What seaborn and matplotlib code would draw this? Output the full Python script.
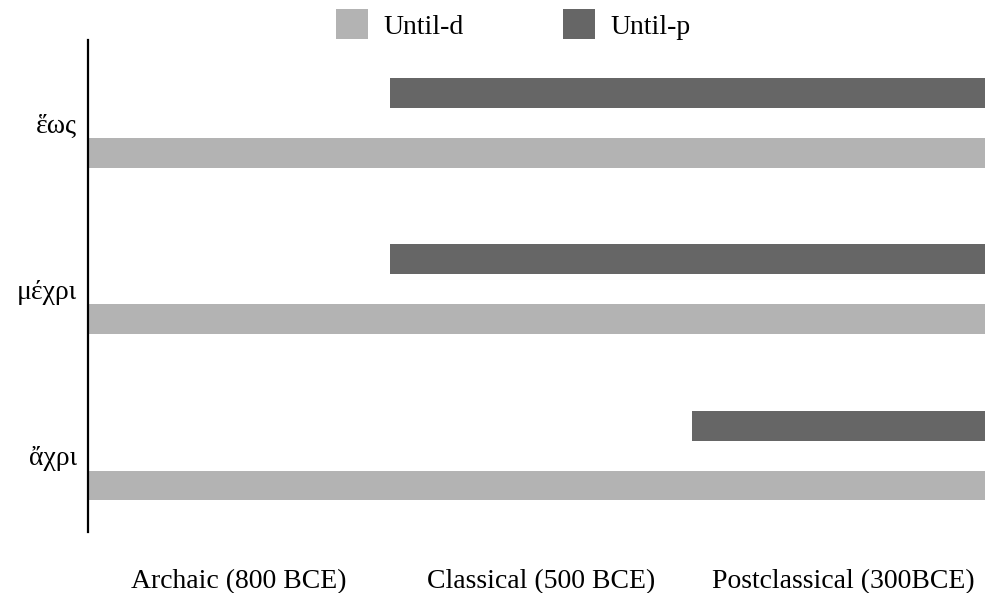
import matplotlib
matplotlib.use("Agg")
import matplotlib.pyplot as plt
import seaborn as sns
import pandas as pd
from matplotlib.patches import Patch

# ---- data ----
words = ["ἕως", "μέχρι", "ἄχρι"]
periods = ["Archaic (800 BCE)", "Classical (500 BCE)", "Postclassical (300BCE)"]
series = ["Until-d", "Until-p"]
until_d_start = [0, 0, 0]   # period index where use begins
until_d_end = [3, 3, 3]     # period index where use ends
until_p_start = [1, 1, 2]
until_p_end = [3, 3, 3]

colors = {"Until-d": "#b3b3b3", "Until-p": "#666666"}

sns.set_theme(style="white")
plt.rcParams["font.family"] = ["Liberation Serif", "DejaVu Serif"]
plt.rcParams["text.color"] = "black"
plt.rcParams["xtick.color"] = "black"
plt.rcParams["ytick.color"] = "black"

rows = []
for i, w in enumerate(words):
    rows.append(dict(word=w, pos=i, series="Until-d", start=until_d_start[i], end=until_d_end[i]))
    rows.append(dict(word=w, pos=i, series="Until-p", start=until_p_start[i], end=until_p_end[i]))
df = pd.DataFrame(rows)

fig = plt.figure(figsize=(9.85, 5.93), dpi=100)
ax = fig.add_axes([88 / 985, 1 - 532 / 593, 1 - 88 / 985, (532 - 40) / 593])

bar_h = 0.18
offsets = {"Until-p": -0.18, "Until-d": 0.18}
for s in series:
    sub = df[df.series == s]
    ax.barh(sub["pos"] + offsets[s], sub["end"] - sub["start"], left=sub["start"],
            height=bar_h, color=colors[s], linewidth=0)

ax.set_xlim(0, 2.97)
ax.set_ylim(2.46, -0.5)
ax.set_yticks(range(len(words)))
ax.set_yticklabels(words, fontsize=20)
ax.set_xticks([i + 0.5 for i in range(len(periods))])
ax.set_xticklabels(periods, fontsize=20)
ax.tick_params(axis="x", length=0, pad=27, labelcolor="black")
ax.tick_params(axis="y", length=0, pad=8, labelcolor="black")
for side in ["top", "right", "bottom"]:
    ax.spines[side].set_visible(False)
ax.spines["left"].set_color("black")
ax.spines["left"].set_linewidth(1.6)
ax.set_xlabel("")
ax.set_ylabel("")

handles = [Patch(facecolor=colors[s], edgecolor="none", label=s) for s in series]
fig.legend(handles=handles, loc="upper center", bbox_to_anchor=(0.5215, 1.008), ncol=2,
           frameon=False, fontsize=20, handlelength=1.12, handleheight=1.3,
           handletextpad=0.58, columnspacing=3.58, borderaxespad=0.1, labelcolor="black")

fig.savefig("out.png", dpi=100)
